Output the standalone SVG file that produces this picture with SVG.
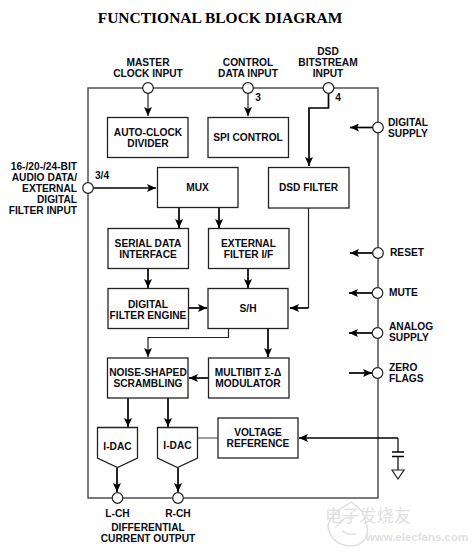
<svg xmlns="http://www.w3.org/2000/svg" width="474" height="554" viewBox="0 0 474 554">
<style>
text{font-family:"Liberation Sans",Arial,sans-serif;font-weight:700;font-size:10.2px;fill:#0a0a14;text-anchor:middle}
.t{font-family:"Liberation Serif","Times New Roman",serif;font-size:15.5px;fill:#000}
.e{text-anchor:end}.s{text-anchor:start}
.b{fill:#fff;stroke:#222;stroke-width:1.3}
.frame{fill:none;stroke:#444;stroke-width:1.4}
.p{fill:#fff;stroke:#222;stroke-width:1.2}
.c{fill:none;stroke:#000;stroke-width:1.7}
.n{fill:none;stroke:#555;stroke-width:1.1}
.m{fill:none;stroke:#222;stroke-width:1.2}
.wm{fill:#e0e0e0;font-weight:400}
.wl{fill:none;stroke:#e0e0e0;stroke-width:1.5}
</style>
<defs>
<marker id="a" markerUnits="userSpaceOnUse" markerWidth="10" markerHeight="8" refX="9" refY="4" orient="auto"><path d="M0 0L9 4L0 8L2 4Z" fill="#000"/></marker>
</defs>
<text class="t" x="220" y="23">FUNCTIONAL BLOCK DIAGRAM</text>
<rect id="frame" class="frame" x="88" y="88" width="290" height="410"/>
<g id="watermark"><path class="wl" d="M352 502C348 504 332 512 328 525C328 538 340 546 350 546C364 546 374 536 362 512C360 508 353 504 352 502M335 528L345 518H354M356 534L348 534L342 531"/><text class="wm" style="font-family:'Noto Sans CJK SC',sans-serif;font-size:17px" x="368" y="522" textLength="86" text-anchor="start">电子发烧友</text><text class="wm" style="font-size:11.500px;font-weight:700" x="417" y="541">www.elecfans.com</text></g>
<g id="connectors">
<path class="m" d="M148 93V116" marker-end="url(#a)"/>
<path class="m" d="M248 93V116" marker-end="url(#a)"/>
<path class="c" d="M328.500 93V108H309V166" marker-end="url(#a)"/>
<path class="c" d="M93 188H156" marker-end="url(#a)"/>
<path class="c" d="M179 208V228" marker-end="url(#a)"/>
<path class="c" d="M219 208V228" marker-end="url(#a)"/>
<path class="c" d="M148 269V288" marker-end="url(#a)"/>
<path class="c" d="M248 269V288" marker-end="url(#a)"/>
<path class="c" d="M188 308H207" marker-end="url(#a)"/>
<path class="m" d="M308.500 208V308"/>
<path class="c" d="M308.500 308H290" marker-end="url(#a)"/>
<path class="m" d="M228.500 328.500V337.500H148V357" marker-end="url(#a)"/>
<path class="c" d="M268 328.500V357" marker-end="url(#a)"/>
<path class="c" d="M208 378H189" marker-end="url(#a)"/>
<path class="c" d="M128 398V427" marker-end="url(#a)"/>
<path class="c" d="M168 398V427" marker-end="url(#a)"/>
<path class="n" d="M198 438H218"/>
<path class="c" d="M398 438H299" marker-end="url(#a)"/>
<path class="c" d="M398 438V452M398 457V470" style="stroke-width:1.2"/>
<path class="c" d="M392 452H404M392 456.500H404" style="stroke-width:1.3"/>
<path class="m" d="M392 470H404L398 479Z"/>
<path class="c" d="M117 468V492" marker-end="url(#a)"/>
<path class="c" d="M178 468V492" marker-end="url(#a)"/>
<path class="c" d="M373 127.500H350" marker-end="url(#a)"/>
<path class="c" d="M373 253H350" marker-end="url(#a)"/>
<path class="c" d="M373 293H349" marker-end="url(#a)"/>
<path class="c" d="M373 333H349" marker-end="url(#a)"/>
<path class="c" d="M349 373H372" marker-end="url(#a)"/>
</g>
<g id="auto-clock"><rect class="b" x="107.500" y="117.500" width="80.500" height="40"/><text x="148" y="136">AUTO-CLOCK</text><text x="148" y="147">DIVIDER</text></g>
<g id="spi"><rect class="b" x="208" y="117.500" width="80.500" height="40"/><text x="248" y="141">SPI CONTROL</text></g>
<g id="mux"><rect class="b" x="157.500" y="167.500" width="80.500" height="40"/><text x="197.500" y="191">MUX</text></g>
<g id="dsd-filter"><rect class="b" x="268.500" y="167.500" width="80.500" height="40.500"/><text x="308.500" y="191">DSD FILTER</text></g>
<g id="serial"><rect class="b" x="108" y="228.500" width="80.500" height="40"/><text x="148" y="247">SERIAL DATA</text><text x="148" y="258">INTERFACE</text></g>
<g id="external"><rect class="b" x="208.500" y="228.500" width="80.500" height="40"/><text x="248.500" y="247">EXTERNAL</text><text x="248.500" y="258">FILTER I/F</text></g>
<g id="engine"><rect class="b" x="108" y="288.500" width="80.500" height="40"/><text x="148" y="308">DIGITAL</text><text x="148" y="319">FILTER ENGINE</text></g>
<g id="sh"><rect class="b" x="208" y="288.500" width="80" height="40"/><text x="248" y="312">S/H</text></g>
<g id="noise"><rect class="b" x="107.500" y="358" width="80.500" height="40"/><text x="148" y="376">NOISE-SHAPED</text><text x="148" y="387">SCRAMBLING</text></g>
<g id="multibit"><rect class="b" x="208.500" y="358" width="80.500" height="40"/><text x="248" y="376">MULTIBIT Σ-Δ</text><text x="248" y="387">MODULATOR</text></g>
<g id="idac-l"><path class="b" d="M97.500 427.500H137.500V458L117.500 467.500L97.500 458Z"/><text x="117.500" y="450">I-DAC</text></g>
<g id="idac-r"><path class="b" d="M157.500 427.500H197.500V458L177.500 467.500L157.500 458Z"/><text x="177.500" y="449">I-DAC</text></g>
<g id="vref"><rect class="b" x="218" y="418" width="80" height="40"/><text x="258" y="436">VOLTAGE</text><text x="258" y="447">REFERENCE</text></g>
<g id="pin-mclk"><circle class="p" cx="148" cy="88" r="5.300"/><text x="148" y="66">MASTER</text><text x="148" y="77">CLOCK INPUT</text></g>
<g id="pin-control"><circle class="p" cx="248" cy="88" r="5.300"/><text x="248" y="66">CONTROL</text><text x="248" y="77">DATA INPUT</text><text x="258" y="101">3</text></g>
<g id="pin-dsd"><circle class="p" cx="328.500" cy="88" r="5.300"/><text x="328" y="55">DSD</text><text x="328" y="66">BITSTREAM</text><text x="328" y="77">INPUT</text><text x="338" y="101">4</text></g>
<g id="pin-audio"><circle class="p" cx="88" cy="188" r="5.300"/><text class="e" x="77" y="170">16-/20-/24-BIT</text><text class="e" x="77" y="181">AUDIO DATA/</text><text class="e" x="77" y="192">EXTERNAL</text><text class="e" x="77" y="203">DIGITAL</text><text class="e" x="77" y="214">FILTER INPUT</text><text x="102" y="179">3/4</text></g>
<g id="pin-dsupply"><circle class="p" cx="378" cy="127.500" r="5.300"/><text class="s" x="388" y="126">DIGITAL</text><text class="s" x="388" y="137">SUPPLY</text></g>
<g id="pin-reset"><circle class="p" cx="378" cy="253" r="5.300"/><text class="s" x="390" y="256">RESET</text></g>
<g id="pin-mute"><circle class="p" cx="377.500" cy="293" r="5.300"/><text class="s" x="389" y="296">MUTE</text></g>
<g id="pin-asupply"><circle class="p" cx="377.500" cy="333" r="5.300"/><text class="s" x="389" y="330">ANALOG</text><text class="s" x="389" y="341">SUPPLY</text></g>
<g id="pin-zero"><circle class="p" cx="377.500" cy="373" r="5.300"/><text class="s" x="389" y="371">ZERO</text><text class="s" x="389" y="382">FLAGS</text></g>
<g id="pin-l"><circle class="p" cx="117.500" cy="498" r="5.300"/><text x="117.500" y="517">L-CH</text></g>
<g id="pin-r"><circle class="p" cx="178" cy="498" r="5.300"/><text x="178" y="517">R-CH</text></g>
<text x="148" y="531">DIFFERENTIAL</text><text x="148" y="542">CURRENT OUTPUT</text>
</svg>
